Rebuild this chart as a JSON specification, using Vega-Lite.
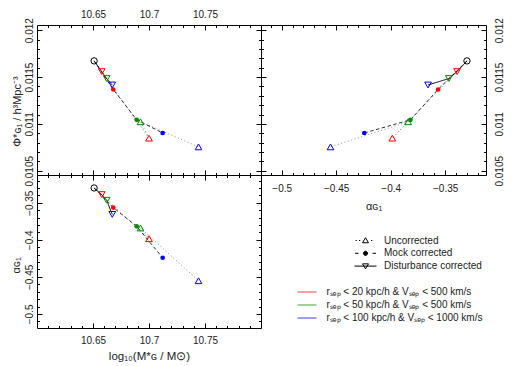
{
  "$schema": "https://vega.github.io/schema/vega-lite/v6.json",
  "padding": {"left": 9, "top": 8, "right": 4, "bottom": 4},
  "background": "white",
  "spacing": 0,
  "bounds": "flush",
  "columns": 2,
  "datasets": {
    "points": [
      {"type": "Reference", "sample": "Reference", "logM": 10.651, "phi": 0.011672, "alpha": -0.330},
      {"type": "Disturbance corrected", "sample": "rₛₑₚ < 20 kpc/h & Vₛₑₚ < 500 km/s", "logM": 10.6578, "phi": 0.011558, "alpha": -0.339},
      {"type": "Disturbance corrected", "sample": "rₛₑₚ < 50 kpc/h & Vₛₑₚ < 500 km/s", "logM": 10.6622, "phi": 0.011484, "alpha": -0.3466},
      {"type": "Disturbance corrected", "sample": "rₛₑₚ < 100 kpc/h & Vₛₑₚ < 1000 km/s", "logM": 10.6672, "phi": 0.011415, "alpha": -0.3657},
      {"type": "Mock corrected", "sample": "rₛₑₚ < 20 kpc/h & Vₛₑₚ < 500 km/s", "logM": 10.6681, "phi": 0.011367, "alpha": -0.3565},
      {"type": "Mock corrected", "sample": "rₛₑₚ < 50 kpc/h & Vₛₑₚ < 500 km/s", "logM": 10.689, "phi": 0.011044, "alpha": -0.3818},
      {"type": "Mock corrected", "sample": "rₛₑₚ < 100 kpc/h & Vₛₑₚ < 1000 km/s", "logM": 10.7122, "phi": 0.010903, "alpha": -0.4242},
      {"type": "Uncorrected", "sample": "rₛₑₚ < 20 kpc/h & Vₛₑₚ < 500 km/s", "logM": 10.7, "phi": 0.010848, "alpha": -0.3985},
      {"type": "Uncorrected", "sample": "rₛₑₚ < 50 kpc/h & Vₛₑₚ < 500 km/s", "logM": 10.6924, "phi": 0.011023, "alpha": -0.384},
      {"type": "Uncorrected", "sample": "rₛₑₚ < 100 kpc/h & Vₛₑₚ < 1000 km/s", "logM": 10.7442, "phi": 0.010755, "alpha": -0.4552}
    ],
    "paths": [
      {"type": "Uncorrected", "step": 0, "logM": 10.651, "phi": 0.011672, "alpha": -0.330},
      {"type": "Uncorrected", "step": 1, "logM": 10.7, "phi": 0.010848, "alpha": -0.3985},
      {"type": "Uncorrected", "step": 2, "logM": 10.6924, "phi": 0.011023, "alpha": -0.384},
      {"type": "Uncorrected", "step": 3, "logM": 10.7442, "phi": 0.010755, "alpha": -0.4552},
      {"type": "Mock corrected", "step": 0, "logM": 10.651, "phi": 0.011672, "alpha": -0.330},
      {"type": "Mock corrected", "step": 1, "logM": 10.6681, "phi": 0.011367, "alpha": -0.3565},
      {"type": "Mock corrected", "step": 2, "logM": 10.689, "phi": 0.011044, "alpha": -0.3818},
      {"type": "Mock corrected", "step": 3, "logM": 10.7122, "phi": 0.010903, "alpha": -0.4242},
      {"type": "Disturbance corrected", "step": 0, "logM": 10.651, "phi": 0.011672, "alpha": -0.330},
      {"type": "Disturbance corrected", "step": 1, "logM": 10.6578, "phi": 0.011558, "alpha": -0.339},
      {"type": "Disturbance corrected", "step": 2, "logM": 10.6622, "phi": 0.011484, "alpha": -0.3466},
      {"type": "Disturbance corrected", "step": 3, "logM": 10.6672, "phi": 0.011415, "alpha": -0.3657}
    ]
  },
  "concat": [
    {
      "width": 224,
      "height": 150,
      "resolve": {"axis": {"x": "independent", "y": "independent"}},
      "layer": [
        {
          "data": {"name": "paths"},
          "mark": {"type": "line", "strokeWidth": 1},
          "encoding": {
            "x": {"field": "logM", "type": "quantitative", "scale": {"domain": [10.6, 10.8], "nice": false, "zero": false},
              "axis": {"orient": "top", "values": [10.65, 10.7, 10.75], "tickSize": -5, "labelPadding": 11, "format": "~g", "title": null}},
            "y": {"field": "phi", "type": "quantitative", "scale": {"domain": [0.010455, 0.012055], "nice": false, "zero": false},
              "axis": {"orient": "left", "values": [0.0105, 0.011, 0.0115, 0.012], "tickSize": -5, "labelPadding": 8, "labelAngle": -90, "labelAlign": "center", "labelBaseline": "bottom", "format": "~g", "title": "Φ*ɢ₁  /  h³Mpc⁻³", "titlePadding": 2, "titleFontSize": 11, "titleY": 86}},
            "stroke": {"field": "type", "type": "nominal", "scale": {"domain": ["Disturbance corrected", "Mock corrected", "Uncorrected"], "range": ["#000000", "#333333", "#8c8c8c"]}, "legend": null},
            "strokeDash": {"field": "type", "type": "nominal", "scale": {"domain": ["Disturbance corrected", "Mock corrected", "Uncorrected"], "range": [[1, 0], [3.5, 2.5], [1, 2.5]]}, "legend": null},
            "opacity": {"field": "type", "type": "nominal", "scale": {"domain": ["Uncorrected", "Mock corrected", "Disturbance corrected"], "range": [1, 1, 1]},
              "legend": {"title": null, "orient": "none", "legendX": 323, "legendY": 210, "symbolSize": 100, "labelOffset": 13, "rowPadding": 1.8,
                "encode": {"symbols": {"update": {
                  "shape": {"signal": "datum.value === 'Uncorrected' ? 'M-2.0,0h0.25M-1.3,0h0.25M1.1,0h0.25M0,-0.55L0.6,0.45L-0.6,0.45Z' : datum.value === 'Mock corrected' ? 'M-2.1,0h0.7M1.4,0h0.7M0.42,0A0.42,0.42 0 1 1 -0.42,0A0.42,0.42 0 1 1 0.42,0Z' : 'M-2.2,0H2.2M0,0.55L0.6,-0.45L-0.6,-0.45Z'"},
                  "stroke": {"value": "#000"},
                  "fill": {"signal": "datum.value === 'Mock corrected' ? '#000' : 'transparent'"},
                  "strokeWidth": {"value": 1}
                }}}}},
            "order": {"field": "step", "type": "quantitative"}
          }
        },
        {
          "data": {"name": "points"},
          "transform": [{"filter": "datum.type === 'Uncorrected' || datum.type === 'Disturbance corrected'"}],
          "mark": {"type": "point", "filled": false, "strokeWidth": 1, "size": 45, "opacity": 1},
          "encoding": {
            "x": {"field": "logM", "type": "quantitative", "scale": {"domain": [10.6, 10.8], "nice": false, "zero": false},
              "axis": {"orient": "top", "values": [10.61, 10.62, 10.63, 10.64, 10.65, 10.66, 10.67, 10.68, 10.69, 10.7, 10.71, 10.72, 10.73, 10.74, 10.75, 10.76, 10.77, 10.78, 10.79], "tickSize": -2.5, "labels": false, "title": null}},
            "y": {"field": "phi", "type": "quantitative", "scale": {"domain": [0.010455, 0.012055], "nice": false, "zero": false},
              "axis": {"orient": "left", "values": [0.0105, 0.0106, 0.0107, 0.0108, 0.0109, 0.011, 0.0111, 0.0112, 0.0113, 0.0114, 0.0115, 0.0116, 0.0117, 0.0118, 0.0119, 0.012], "tickSize": -2.5, "labels": false, "title": null}},
            "shape": {"field": "type", "type": "nominal", "scale": {"domain": ["Uncorrected", "Disturbance corrected"], "range": ["triangle-up", "triangle-down"]}, "legend": null},
            "color": {"field": "sample", "type": "nominal", "scale": {"domain": ["rₛₑₚ < 20 kpc/h & Vₛₑₚ < 500 km/s", "rₛₑₚ < 50 kpc/h & Vₛₑₚ < 500 km/s", "rₛₑₚ < 100 kpc/h & Vₛₑₚ < 1000 km/s"], "range": ["#ff0000", "#008b00", "#0000ff"]},
              "legend": {"title": null, "orient": "none", "legendX": 264, "legendY": 261, "symbolType": "M-1.9,0H1.9", "symbolSize": 100, "symbolStrokeWidth": 1.5, "symbolOpacity": 0.5, "labelOffset": 13.5, "rowPadding": 2,
                "encode": {"symbols": {"update": {"strokeOpacity": {"value": 0.5}, "strokeWidth": {"value": 1.5}}}}}}
          }
        },
        {
          "data": {"name": "points"},
          "transform": [{"filter": "datum.type === 'Mock corrected'"}],
          "mark": {"type": "circle", "size": 22, "opacity": 1},
          "encoding": {
            "x": {"field": "logM", "type": "quantitative", "scale": {"domain": [10.6, 10.8], "nice": false, "zero": false},
              "axis": {"orient": "bottom", "values": [10.65, 10.7, 10.75], "tickSize": -5, "labels": false, "title": null}},
            "y": {"field": "phi", "type": "quantitative", "scale": {"domain": [0.010455, 0.012055], "nice": false, "zero": false},
              "axis": {"orient": "right", "values": [0.0105, 0.011, 0.0115, 0.012], "tickSize": -5, "labels": false, "title": null}},
            "color": {"field": "sample", "type": "nominal", "scale": {"domain": ["rₛₑₚ < 20 kpc/h & Vₛₑₚ < 500 km/s", "rₛₑₚ < 50 kpc/h & Vₛₑₚ < 500 km/s", "rₛₑₚ < 100 kpc/h & Vₛₑₚ < 1000 km/s"], "range": ["#ff0000", "#008b00", "#0000ff"]}}
          }
        },
        {
          "data": {"name": "points"},
          "transform": [{"filter": "datum.type === 'Reference'"}],
          "mark": {"type": "point", "shape": "circle", "filled": false, "size": 40, "color": "#000", "strokeWidth": 1, "opacity": 1},
          "encoding": {
            "x": {"field": "logM", "type": "quantitative", "scale": {"domain": [10.6, 10.8], "nice": false, "zero": false},
              "axis": {"orient": "bottom", "values": [10.61, 10.62, 10.63, 10.64, 10.65, 10.66, 10.67, 10.68, 10.69, 10.7, 10.71, 10.72, 10.73, 10.74, 10.75, 10.76, 10.77, 10.78, 10.79], "tickSize": -2.5, "labels": false, "title": null}},
            "y": {"field": "phi", "type": "quantitative", "scale": {"domain": [0.010455, 0.012055], "nice": false, "zero": false},
              "axis": {"orient": "right", "values": [0.0105, 0.0106, 0.0107, 0.0108, 0.0109, 0.011, 0.0111, 0.0112, 0.0113, 0.0114, 0.0115, 0.0116, 0.0117, 0.0118, 0.0119, 0.012], "tickSize": -2.5, "labels": false, "title": null}}
          }
        }
      ]
    },
    {
      "width": 225,
      "height": 150,
      "resolve": {"axis": {"x": "independent", "y": "independent"}},
      "layer": [
        {
          "data": {"name": "paths"},
          "mark": {"type": "line", "strokeWidth": 1},
          "encoding": {
            "x": {"field": "alpha", "type": "quantitative", "scale": {"domain": [-0.519, -0.3125], "nice": false, "zero": false},
              "axis": {"orient": "bottom", "values": [-0.5, -0.45, -0.4, -0.35], "tickSize": -5, "labelPadding": 13.5, "format": "~g", "title": "αɢ₁", "titlePadding": 7, "titleFontSize": 11}},
            "y": {"field": "phi", "type": "quantitative", "scale": {"domain": [0.010455, 0.012055], "nice": false, "zero": false},
              "axis": {"orient": "right", "values": [0.0105, 0.011, 0.0115, 0.012], "tickSize": -5, "labelPadding": 13, "labelAngle": -90, "labelAlign": "center", "labelBaseline": "top", "format": "~g", "title": null}},
            "stroke": {"field": "type", "type": "nominal", "scale": {"domain": ["Disturbance corrected", "Mock corrected", "Uncorrected"], "range": ["#000000", "#333333", "#8c8c8c"]}, "legend": null},
            "strokeDash": {"field": "type", "type": "nominal", "scale": {"domain": ["Disturbance corrected", "Mock corrected", "Uncorrected"], "range": [[1, 0], [3.5, 2.5], [1, 2.5]]}, "legend": null},
            "opacity": {"field": "type", "type": "nominal", "scale": {"domain": ["Uncorrected", "Mock corrected", "Disturbance corrected"], "range": [1, 1, 1]},
              "legend": {"title": null, "orient": "none", "legendX": 323, "legendY": 210, "symbolSize": 100, "labelOffset": 13, "rowPadding": 1.8,
                "encode": {"symbols": {"update": {
                  "shape": {"signal": "datum.value === 'Uncorrected' ? 'M-2.0,0h0.25M-1.3,0h0.25M1.1,0h0.25M0,-0.55L0.6,0.45L-0.6,0.45Z' : datum.value === 'Mock corrected' ? 'M-2.1,0h0.7M1.4,0h0.7M0.42,0A0.42,0.42 0 1 1 -0.42,0A0.42,0.42 0 1 1 0.42,0Z' : 'M-2.2,0H2.2M0,0.55L0.6,-0.45L-0.6,-0.45Z'"},
                  "stroke": {"value": "#000"},
                  "fill": {"signal": "datum.value === 'Mock corrected' ? '#000' : 'transparent'"},
                  "strokeWidth": {"value": 1}
                }}}}},
            "order": {"field": "step", "type": "quantitative"}
          }
        },
        {
          "data": {"name": "points"},
          "transform": [{"filter": "datum.type === 'Uncorrected' || datum.type === 'Disturbance corrected'"}],
          "mark": {"type": "point", "filled": false, "strokeWidth": 1, "size": 45, "opacity": 1},
          "encoding": {
            "x": {"field": "alpha", "type": "quantitative", "scale": {"domain": [-0.519, -0.3125], "nice": false, "zero": false},
              "axis": {"orient": "bottom", "values": [-0.51, -0.5, -0.49, -0.48, -0.47, -0.46, -0.45, -0.44, -0.43, -0.42, -0.41, -0.4, -0.39, -0.38, -0.37, -0.36, -0.35, -0.34, -0.33, -0.32], "tickSize": -2.5, "labels": false, "title": null}},
            "y": {"field": "phi", "type": "quantitative", "scale": {"domain": [0.010455, 0.012055], "nice": false, "zero": false},
              "axis": {"orient": "right", "values": [0.0105, 0.0106, 0.0107, 0.0108, 0.0109, 0.011, 0.0111, 0.0112, 0.0113, 0.0114, 0.0115, 0.0116, 0.0117, 0.0118, 0.0119, 0.012], "tickSize": -2.5, "labels": false, "title": null}},
            "shape": {"field": "type", "type": "nominal", "scale": {"domain": ["Uncorrected", "Disturbance corrected"], "range": ["triangle-up", "triangle-down"]}, "legend": null},
            "color": {"field": "sample", "type": "nominal", "scale": {"domain": ["rₛₑₚ < 20 kpc/h & Vₛₑₚ < 500 km/s", "rₛₑₚ < 50 kpc/h & Vₛₑₚ < 500 km/s", "rₛₑₚ < 100 kpc/h & Vₛₑₚ < 1000 km/s"], "range": ["#ff0000", "#008b00", "#0000ff"]},
              "legend": {"title": null, "orient": "none", "legendX": 264, "legendY": 261, "symbolType": "M-1.9,0H1.9", "symbolSize": 100, "symbolStrokeWidth": 1.5, "symbolOpacity": 0.5, "labelOffset": 13.5, "rowPadding": 2,
                "encode": {"symbols": {"update": {"strokeOpacity": {"value": 0.5}, "strokeWidth": {"value": 1.5}}}}}}
          }
        },
        {
          "data": {"name": "points"},
          "transform": [{"filter": "datum.type === 'Mock corrected'"}],
          "mark": {"type": "circle", "size": 22, "opacity": 1},
          "encoding": {
            "x": {"field": "alpha", "type": "quantitative", "scale": {"domain": [-0.519, -0.3125], "nice": false, "zero": false},
              "axis": {"orient": "top", "values": [-0.5, -0.45, -0.4, -0.35], "tickSize": -5, "labels": false, "title": null}},
            "y": {"field": "phi", "type": "quantitative", "scale": {"domain": [0.010455, 0.012055], "nice": false, "zero": false},
              "axis": {"orient": "left", "values": [0.0105, 0.011, 0.0115, 0.012], "tickSize": -5, "labels": false, "title": null}},
            "color": {"field": "sample", "type": "nominal", "scale": {"domain": ["rₛₑₚ < 20 kpc/h & Vₛₑₚ < 500 km/s", "rₛₑₚ < 50 kpc/h & Vₛₑₚ < 500 km/s", "rₛₑₚ < 100 kpc/h & Vₛₑₚ < 1000 km/s"], "range": ["#ff0000", "#008b00", "#0000ff"]}}
          }
        },
        {
          "data": {"name": "points"},
          "transform": [{"filter": "datum.type === 'Reference'"}],
          "mark": {"type": "point", "shape": "circle", "filled": false, "size": 40, "color": "#000", "strokeWidth": 1, "opacity": 1},
          "encoding": {
            "x": {"field": "alpha", "type": "quantitative", "scale": {"domain": [-0.519, -0.3125], "nice": false, "zero": false},
              "axis": {"orient": "top", "values": [-0.51, -0.5, -0.49, -0.48, -0.47, -0.46, -0.45, -0.44, -0.43, -0.42, -0.41, -0.4, -0.39, -0.38, -0.37, -0.36, -0.35, -0.34, -0.33, -0.32], "tickSize": -2.5, "labels": false, "title": null}},
            "y": {"field": "phi", "type": "quantitative", "scale": {"domain": [0.010455, 0.012055], "nice": false, "zero": false},
              "axis": {"orient": "left", "values": [0.0105, 0.0106, 0.0107, 0.0108, 0.0109, 0.011, 0.0111, 0.0112, 0.0113, 0.0114, 0.0115, 0.0116, 0.0117, 0.0118, 0.0119, 0.012], "tickSize": -2.5, "labels": false, "title": null}}
          }
        }
      ]
    },
    {
      "width": 224,
      "height": 153,
      "resolve": {"axis": {"x": "independent", "y": "independent"}},
      "layer": [
        {
          "data": {"name": "paths"},
          "mark": {"type": "line", "strokeWidth": 1},
          "encoding": {
            "x": {"field": "logM", "type": "quantitative", "scale": {"domain": [10.6, 10.8], "nice": false, "zero": false},
              "axis": {"orient": "bottom", "values": [10.65, 10.7, 10.75], "tickSize": -5, "labelPadding": 12, "format": "~g", "title": "log₁₀(M*ɢ / M⊙)", "titlePadding": 5, "titleFontSize": 11.5}},
            "y": {"field": "alpha", "type": "quantitative", "scale": {"domain": [-0.519, -0.3125], "nice": false, "zero": false},
              "axis": {"orient": "left", "values": [-0.5, -0.45, -0.4, -0.35], "tickSize": -5, "labelPadding": 8, "labelAngle": -90, "labelAlign": "center", "labelBaseline": "bottom", "format": "~g", "title": "αɢ₁", "titlePadding": 3, "titleFontSize": 11, "titleY": 90}},
            "stroke": {"field": "type", "type": "nominal", "scale": {"domain": ["Disturbance corrected", "Mock corrected", "Uncorrected"], "range": ["#000000", "#333333", "#8c8c8c"]}, "legend": null},
            "strokeDash": {"field": "type", "type": "nominal", "scale": {"domain": ["Disturbance corrected", "Mock corrected", "Uncorrected"], "range": [[1, 0], [3.5, 2.5], [1, 2.5]]}, "legend": null},
            "opacity": {"field": "type", "type": "nominal", "scale": {"domain": ["Uncorrected", "Mock corrected", "Disturbance corrected"], "range": [1, 1, 1]},
              "legend": {"title": null, "orient": "none", "legendX": 323, "legendY": 210, "symbolSize": 100, "labelOffset": 13, "rowPadding": 1.8,
                "encode": {"symbols": {"update": {
                  "shape": {"signal": "datum.value === 'Uncorrected' ? 'M-2.0,0h0.25M-1.3,0h0.25M1.1,0h0.25M0,-0.55L0.6,0.45L-0.6,0.45Z' : datum.value === 'Mock corrected' ? 'M-2.1,0h0.7M1.4,0h0.7M0.42,0A0.42,0.42 0 1 1 -0.42,0A0.42,0.42 0 1 1 0.42,0Z' : 'M-2.2,0H2.2M0,0.55L0.6,-0.45L-0.6,-0.45Z'"},
                  "stroke": {"value": "#000"},
                  "fill": {"signal": "datum.value === 'Mock corrected' ? '#000' : 'transparent'"},
                  "strokeWidth": {"value": 1}
                }}}}},
            "order": {"field": "step", "type": "quantitative"}
          }
        },
        {
          "data": {"name": "points"},
          "transform": [{"filter": "datum.type === 'Uncorrected' || datum.type === 'Disturbance corrected'"}],
          "mark": {"type": "point", "filled": false, "strokeWidth": 1, "size": 45, "opacity": 1},
          "encoding": {
            "x": {"field": "logM", "type": "quantitative", "scale": {"domain": [10.6, 10.8], "nice": false, "zero": false},
              "axis": {"orient": "bottom", "values": [10.61, 10.62, 10.63, 10.64, 10.65, 10.66, 10.67, 10.68, 10.69, 10.7, 10.71, 10.72, 10.73, 10.74, 10.75, 10.76, 10.77, 10.78, 10.79], "tickSize": -2.5, "labels": false, "title": null}},
            "y": {"field": "alpha", "type": "quantitative", "scale": {"domain": [-0.519, -0.3125], "nice": false, "zero": false},
              "axis": {"orient": "left", "values": [-0.51, -0.5, -0.49, -0.48, -0.47, -0.46, -0.45, -0.44, -0.43, -0.42, -0.41, -0.4, -0.39, -0.38, -0.37, -0.36, -0.35, -0.34, -0.33, -0.32], "tickSize": -2.5, "labels": false, "title": null}},
            "shape": {"field": "type", "type": "nominal", "scale": {"domain": ["Uncorrected", "Disturbance corrected"], "range": ["triangle-up", "triangle-down"]}, "legend": null},
            "color": {"field": "sample", "type": "nominal", "scale": {"domain": ["rₛₑₚ < 20 kpc/h & Vₛₑₚ < 500 km/s", "rₛₑₚ < 50 kpc/h & Vₛₑₚ < 500 km/s", "rₛₑₚ < 100 kpc/h & Vₛₑₚ < 1000 km/s"], "range": ["#ff0000", "#008b00", "#0000ff"]},
              "legend": {"title": null, "orient": "none", "legendX": 264, "legendY": 261, "symbolType": "M-1.9,0H1.9", "symbolSize": 100, "symbolStrokeWidth": 1.5, "symbolOpacity": 0.5, "labelOffset": 13.5, "rowPadding": 2,
                "encode": {"symbols": {"update": {"strokeOpacity": {"value": 0.5}, "strokeWidth": {"value": 1.5}}}}}}
          }
        },
        {
          "data": {"name": "points"},
          "transform": [{"filter": "datum.type === 'Mock corrected'"}],
          "mark": {"type": "circle", "size": 22, "opacity": 1},
          "encoding": {
            "x": {"field": "logM", "type": "quantitative", "scale": {"domain": [10.6, 10.8], "nice": false, "zero": false},
              "axis": {"orient": "top", "values": [10.65, 10.7, 10.75], "tickSize": -5, "labels": false, "title": null}},
            "y": {"field": "alpha", "type": "quantitative", "scale": {"domain": [-0.519, -0.3125], "nice": false, "zero": false},
              "axis": {"orient": "right", "values": [-0.5, -0.45, -0.4, -0.35], "tickSize": -5, "labels": false, "title": null}},
            "color": {"field": "sample", "type": "nominal", "scale": {"domain": ["rₛₑₚ < 20 kpc/h & Vₛₑₚ < 500 km/s", "rₛₑₚ < 50 kpc/h & Vₛₑₚ < 500 km/s", "rₛₑₚ < 100 kpc/h & Vₛₑₚ < 1000 km/s"], "range": ["#ff0000", "#008b00", "#0000ff"]}}
          }
        },
        {
          "data": {"name": "points"},
          "transform": [{"filter": "datum.type === 'Reference'"}],
          "mark": {"type": "point", "shape": "circle", "filled": false, "size": 40, "color": "#000", "strokeWidth": 1, "opacity": 1},
          "encoding": {
            "x": {"field": "logM", "type": "quantitative", "scale": {"domain": [10.6, 10.8], "nice": false, "zero": false},
              "axis": {"orient": "top", "values": [10.61, 10.62, 10.63, 10.64, 10.65, 10.66, 10.67, 10.68, 10.69, 10.7, 10.71, 10.72, 10.73, 10.74, 10.75, 10.76, 10.77, 10.78, 10.79], "tickSize": -2.5, "labels": false, "title": null}},
            "y": {"field": "alpha", "type": "quantitative", "scale": {"domain": [-0.519, -0.3125], "nice": false, "zero": false},
              "axis": {"orient": "right", "values": [-0.51, -0.5, -0.49, -0.48, -0.47, -0.46, -0.45, -0.44, -0.43, -0.42, -0.41, -0.4, -0.39, -0.38, -0.37, -0.36, -0.35, -0.34, -0.33, -0.32], "tickSize": -2.5, "labels": false, "title": null}}
          }
        }
      ]
    }
  ],
  "config": {
    "view": {"stroke": "#000", "strokeWidth": 1},
    "font": "Liberation Sans",
    "axis": {"domain": false, "grid": false, "tickColor": "#000", "tickWidth": 1, "labelFont": "Liberation Sans", "labelFontSize": 10, "labelColor": "#222", "titleFont": "Liberation Sans", "titleFontSize": 10, "titleFontWeight": "normal", "titleColor": "#222", "labelFlush": false, "labelOverlap": false},
    "legend": {"labelFont": "Liberation Sans", "labelFontSize": 10, "labelColor": "#222", "padding": 0, "offset": 0}
  }
}
